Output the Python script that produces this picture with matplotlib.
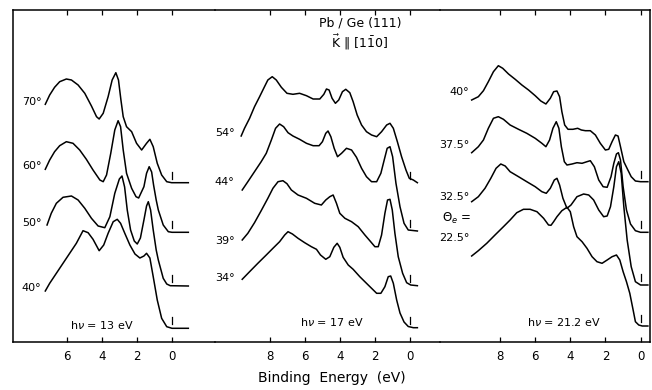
import matplotlib as mpl
import matplotlib.pyplot as plt

mpl.rcParams['font.family'] = ['DejaVu Sans']
mpl.rcParams['axes.edgecolor'] = 'black'
mpl.rcParams['axes.linewidth'] = 1.1
mpl.rcParams['mathtext.fontset'] = 'dejavusans'

# ---- data: (binding energy eV, offset intensity) ----
angles_13 = ['70°', '60°', '50°', '40°']
s13_70 = [(7.22, 237.7), (6.97, 247), (6.69, 254.7), (6.4, 260.3), (6.02, 263), (5.73, 262),
          (5.35, 257), (4.97, 248.7), (4.59, 236), (4.3, 225.3), (4.15, 223), (3.92, 228.7),
          (3.64, 245.3), (3.41, 262), (3.2, 269.3), (3.05, 262), (2.91, 242), (2.78, 225.3),
          (2.59, 215.3), (2.3, 210.3), (2.02, 198.7), (1.73, 192), (1.45, 198.7), (1.26, 202.7),
          (1.07, 195.3), (0.84, 178.7), (0.59, 167), (0.3, 160.3), (0.02, 159.3), (-0.93, 159.3)]
s13_60 = [(7.22, 172.7), (6.97, 182), (6.69, 190.3), (6.4, 196.3), (6.02, 200.3), (5.64, 198.7),
          (5.26, 192), (4.88, 182.7), (4.5, 172), (4.11, 162), (3.92, 160.3), (3.73, 167),
          (3.49, 188.7), (3.26, 212), (3.07, 221.3), (2.93, 215.3), (2.78, 192), (2.59, 168.7),
          (2.3, 153.7), (2.05, 145.3), (1.9, 144), (1.6, 155.3), (1.45, 168.7), (1.3, 175.3),
          (1.16, 170), (1.05, 157), (0.9, 142), (0.78, 132), (0.5, 117), (0.21, 110.3),
          (0.0, 109.7), (-0.93, 109.7)]
s13_50 = [(7.12, 117), (6.88, 128.7), (6.59, 138.7), (6.21, 144.7), (5.73, 146), (5.35, 142),
          (4.97, 133.7), (4.59, 123.7), (4.21, 116), (3.83, 114.3), (3.54, 125.3), (3.26, 148.7),
          (3.0, 163), (2.85, 166), (2.7, 155), (2.55, 132), (2.36, 112), (2.15, 101), (1.98, 98),
          (1.8, 104), (1.6, 122), (1.45, 136), (1.35, 140.3), (1.22, 132), (1.07, 112), (0.9, 92),
          (0.78, 82), (0.5, 63.7), (0.3, 58), (0.1, 56.3), (-0.93, 56)]
s13_40 = [(7.22, 51), (6.97, 58.7), (6.59, 68.7), (6.21, 78.7), (5.83, 88.7), (5.45, 98.7),
          (5.07, 111.3), (4.78, 109.3), (4.5, 102.7), (4.15, 91.3), (3.89, 97), (3.64, 108.7),
          (3.35, 120.3), (3.12, 122.7), (2.93, 118.7), (2.69, 108.7), (2.4, 97), (2.11, 88),
          (1.83, 84), (1.6, 86), (1.45, 88.7), (1.26, 84), (1.07, 65.3), (0.84, 42), (0.59, 23.7),
          (0.3, 15.3), (0.0, 13.7), (-0.93, 13.7)]

angles_17 = ['54°', '44°', '39°', '34°']
s17_54 = [(9.62, 206), (9.43, 213.7), (9.14, 223.7), (8.86, 235.3), (8.57, 245.3), (8.29, 255.3),
          (8.1, 262), (7.85, 265.3), (7.62, 262), (7.33, 254.7), (7.01, 248.7), (6.67, 247.7),
          (6.29, 248.7), (5.9, 246.3), (5.52, 243), (5.14, 243), (4.91, 247.7), (4.76, 253),
          (4.61, 252), (4.44, 243.7), (4.25, 238.7), (4.06, 242), (3.85, 250.3), (3.66, 252.7),
          (3.43, 249.3), (3.24, 240.3), (3.01, 227), (2.76, 217), (2.48, 210.3), (2.19, 207),
          (1.9, 205.3), (1.62, 210.3), (1.33, 217), (1.14, 218.7), (0.95, 213.7), (0.72, 200.3),
          (0.48, 185.3), (0.23, 172), (0.04, 163.7), (-0.19, 162), (-0.42, 159.3)]
s17_44 = [(9.56, 152), (9.24, 160.3), (8.86, 170.3), (8.48, 180.3), (8.19, 188.7), (7.9, 202),
          (7.66, 213.7), (7.43, 218), (7.2, 215.3), (6.95, 209.3), (6.67, 206), (6.29, 202.7),
          (5.9, 198.7), (5.52, 196.3), (5.18, 196.3), (4.99, 200.3), (4.8, 208.7), (4.67, 211),
          (4.51, 205.3), (4.32, 193.7), (4.13, 185.3), (3.9, 188.7), (3.62, 193.7), (3.33, 192),
          (3.05, 184.7), (2.76, 173.7), (2.48, 165.3), (2.19, 160.3), (1.9, 160.3), (1.66, 168.7),
          (1.47, 182), (1.3, 193.7), (1.14, 195.3), (0.99, 185.3), (0.8, 158.7), (0.57, 135.3),
          (0.34, 118.7), (0.1, 112), (-0.42, 111)]
s17_39 = [(9.56, 102), (9.24, 108.7), (8.86, 119.3), (8.48, 131.3), (8.1, 143.7), (7.81, 153.7),
          (7.52, 160.3), (7.24, 161.3), (7.01, 158.3), (6.76, 152), (6.38, 147), (5.9, 143.7),
          (5.43, 138.7), (5.05, 137), (4.8, 142), (4.57, 145.3), (4.38, 147), (4.19, 138.7),
          (4.0, 128.7), (3.71, 123.7), (3.33, 120.3), (2.95, 115.3), (2.57, 107), (2.29, 101.3),
          (2.0, 95.3), (1.81, 95.3), (1.62, 107), (1.43, 128.7), (1.28, 142), (1.14, 142.7),
          (1.01, 132), (0.86, 108.7), (0.67, 85.3), (0.42, 68.7), (0.19, 59.3), (-0.04, 57),
          (-0.42, 56.3)]
s17_34 = [(9.56, 62.7), (9.14, 70.3), (8.67, 78.7), (8.19, 87), (7.81, 93.7), (7.43, 100.3),
          (7.14, 107), (6.95, 110.3), (6.7, 108), (6.38, 103.7), (6.0, 99.3), (5.62, 95.3),
          (5.33, 92.7), (5.1, 87), (4.8, 82.7), (4.57, 85.3), (4.34, 94.7), (4.15, 98.7),
          (4.0, 94.7), (3.81, 84.7), (3.52, 77), (3.24, 72.7), (2.86, 65.3), (2.48, 58.7),
          (2.19, 53.7), (1.9, 48.7), (1.66, 48.7), (1.43, 55.3), (1.24, 65.3), (1.1, 66),
          (0.95, 58.7), (0.76, 42), (0.57, 29), (0.34, 20), (0.1, 15.5), (-0.19, 14.3), (-0.42, 14.3)]

angles_21 = ['40°', '37.5°', '32.5°', '22.5°']
s21_40 = [(9.62, 242), (9.24, 245.3), (8.95, 251.3), (8.67, 260.3), (8.38, 270.3), (8.1, 276.3),
          (7.85, 273.7), (7.52, 268), (7.14, 262.7), (6.76, 257), (6.38, 252), (6.0, 246.3),
          (5.68, 241), (5.39, 238), (5.14, 243.7), (4.95, 250.3), (4.76, 251), (4.61, 245.3),
          (4.48, 230.3), (4.32, 217), (4.13, 212.7), (3.85, 212.7), (3.58, 213.7), (3.37, 212),
          (3.14, 211.3), (2.86, 211.3), (2.57, 207), (2.29, 198.7), (2.0, 192), (1.81, 192.7),
          (1.62, 200.3), (1.43, 207), (1.28, 206), (1.14, 195.3), (0.95, 180.3), (0.72, 172),
          (0.53, 165.3), (0.29, 161), (0.0, 160.3), (-0.42, 160.3)]
s21_375 = [(9.62, 189.3), (9.24, 195.3), (8.95, 202), (8.67, 213.7), (8.38, 223.7), (8.1, 225.3),
           (7.81, 222.7), (7.43, 217), (6.95, 212.7), (6.48, 208.7), (6.0, 203.7), (5.62, 198.7),
           (5.39, 195.3), (5.18, 202), (4.99, 213.7), (4.8, 220.3), (4.65, 213.7), (4.51, 195.3),
           (4.34, 180.3), (4.19, 177), (3.9, 178), (3.62, 179.3), (3.33, 178.7), (3.05, 180.3),
           (2.86, 181.3), (2.63, 175.3), (2.38, 162), (2.13, 155.3), (1.9, 154.7), (1.68, 165.3),
           (1.52, 178.7), (1.37, 188), (1.26, 189.3), (1.14, 182), (0.99, 155.3), (0.8, 132),
           (0.57, 118), (0.29, 111.3), (0.0, 109.7), (-0.42, 109.7)]
s21_325 = [(9.62, 140.3), (9.24, 145.3), (8.86, 153.7), (8.53, 163.7), (8.23, 173.7), (7.96, 178),
           (7.71, 176), (7.43, 170.3), (6.95, 165.3), (6.48, 160.3), (6.0, 155.3), (5.62, 150.3),
           (5.37, 148.7), (5.14, 153.7), (4.91, 162), (4.76, 163.7), (4.61, 157), (4.42, 143.7),
           (4.19, 133.7), (3.96, 137), (3.62, 145.3), (3.24, 148), (2.95, 147), (2.67, 142),
           (2.38, 132), (2.1, 125.3), (1.9, 126), (1.71, 135.3), (1.52, 155.3), (1.37, 175.3),
           (1.24, 180.3), (1.1, 168.7), (0.95, 135.3), (0.76, 102), (0.53, 75.3), (0.29, 60.3),
           (0.0, 57), (-0.42, 57)]
s21_225 = [(9.62, 86), (9.24, 91.3), (8.76, 98.7), (8.29, 107), (7.81, 115.3), (7.43, 122),
           (7.05, 129.3), (6.67, 132.7), (6.29, 132.7), (5.9, 130.3), (5.52, 123.7), (5.24, 117),
           (5.1, 116.7), (4.95, 120.3), (4.76, 125.3), (4.48, 131.3), (4.19, 134.7), (4.0, 130.3),
           (3.81, 115.3), (3.62, 105.3), (3.33, 100.3), (3.05, 93.7), (2.76, 85.3), (2.48, 80.3),
           (2.19, 78.7), (1.9, 82), (1.62, 85.3), (1.37, 87), (1.18, 82), (0.99, 70.3), (0.8, 60.3),
           (0.61, 48.7), (0.42, 32), (0.29, 20.3), (0.1, 17), (-0.1, 16), (-0.42, 16)]

ticks_13 = [6, 4, 2, 0]
ticks_17 = [8, 6, 4, 2, 0]
ticks_21 = [8, 6, 4, 2, 0]

# ---- layout (pixels of the 652x390 image) ----
W, H = 652, 390
fig = plt.figure(figsize=(W / 100, H / 100), dpi=100)
PPE = 17.55  # pixels per eV
frame_bottom, frame_top = 342, 10


def panel(x0, x1, zero_px, ticks, spines_off):
    ax = fig.add_axes([x0 / W, (H - frame_bottom) / H, (x1 - x0) / W, (frame_bottom - frame_top) / H])
    ax.set_xlim((zero_px - x0) / PPE, (zero_px - x1) / PPE)
    ax.set_ylim(0, frame_bottom - frame_top)
    for s in spines_off:
        ax.spines[s].set_visible(False)
    ax.set_yticks([])
    ax.set_xticks(ticks)
    ax.set_xticklabels([str(t) for t in ticks])
    ax.tick_params(axis='x', direction='in', top=True, length=3.5, width=0.9, labelsize=8.5, pad=5.5)
    ax.patch.set_alpha(0)
    return ax


def draw(ax, curves, labels, lab_x, lab_y):
    for c, lab, ly in zip(curves, labels, lab_y):
        ev = [p[0] for p in c]
        y = [p[1] for p in c]
        ax.plot(ev, y, color='black', lw=1.1, solid_joinstyle='round')
        base = y[-1]
        ax.plot([0, 0], [base + 4, base + 11], color='black', lw=0.9)
        if lab:
            ax.text(lab_x, ly, lab, ha='right', va='center', fontsize=8)


ax1 = panel(13, 215, 172, ticks_13, ['right'])
ax2 = panel(215, 440, 410, ticks_17, ['left', 'right'])
ax3 = panel(440, 650, 640.5, ticks_21, ['left'])

draw(ax1, [s13_70, s13_60, s13_50, s13_40], angles_13, 7.45, [240, 176, 119, 54])
draw(ax2, [s17_54, s17_44, s17_39, s17_34], angles_17, 10.0, [209, 160, 101, 64])
draw(ax3, [s21_40, s21_375, s21_325, s21_225], angles_21[:3] + [''], 9.75, [250, 197, 145, 104])
ax3.text(9.75, 104, angles_21[3], ha='right', va='center', fontsize=8)
ax3.text(11.3, 124, r'$\Theta_e$ =', ha='left', va='center', fontsize=8.5, clip_on=False)

ax1.text(4.0, 17, r'h$\nu$ = 13 eV', ha='center', va='center', fontsize=8)
ax2.text(4.44, 20, r'h$\nu$ = 17 eV', ha='center', va='center', fontsize=8)
ax3.text(4.36, 20, r'h$\nu$ = 21.2 eV', ha='center', va='center', fontsize=8)

fig.text(360 / W, 1 - 23 / H, 'Pb / Ge (111)', ha='center', va='center', fontsize=9)
fig.text(359 / W, 1 - 42 / H, r'$\vec{\mathrm{K}}$ $\Vert$ [1$\bar{1}$0]', ha='center', va='center', fontsize=9)
fig.text(332 / W, 1 - 378 / H, 'Binding  Energy  (eV)', ha='center', va='center', fontsize=10)

fig.savefig('out.png', dpi=100)
